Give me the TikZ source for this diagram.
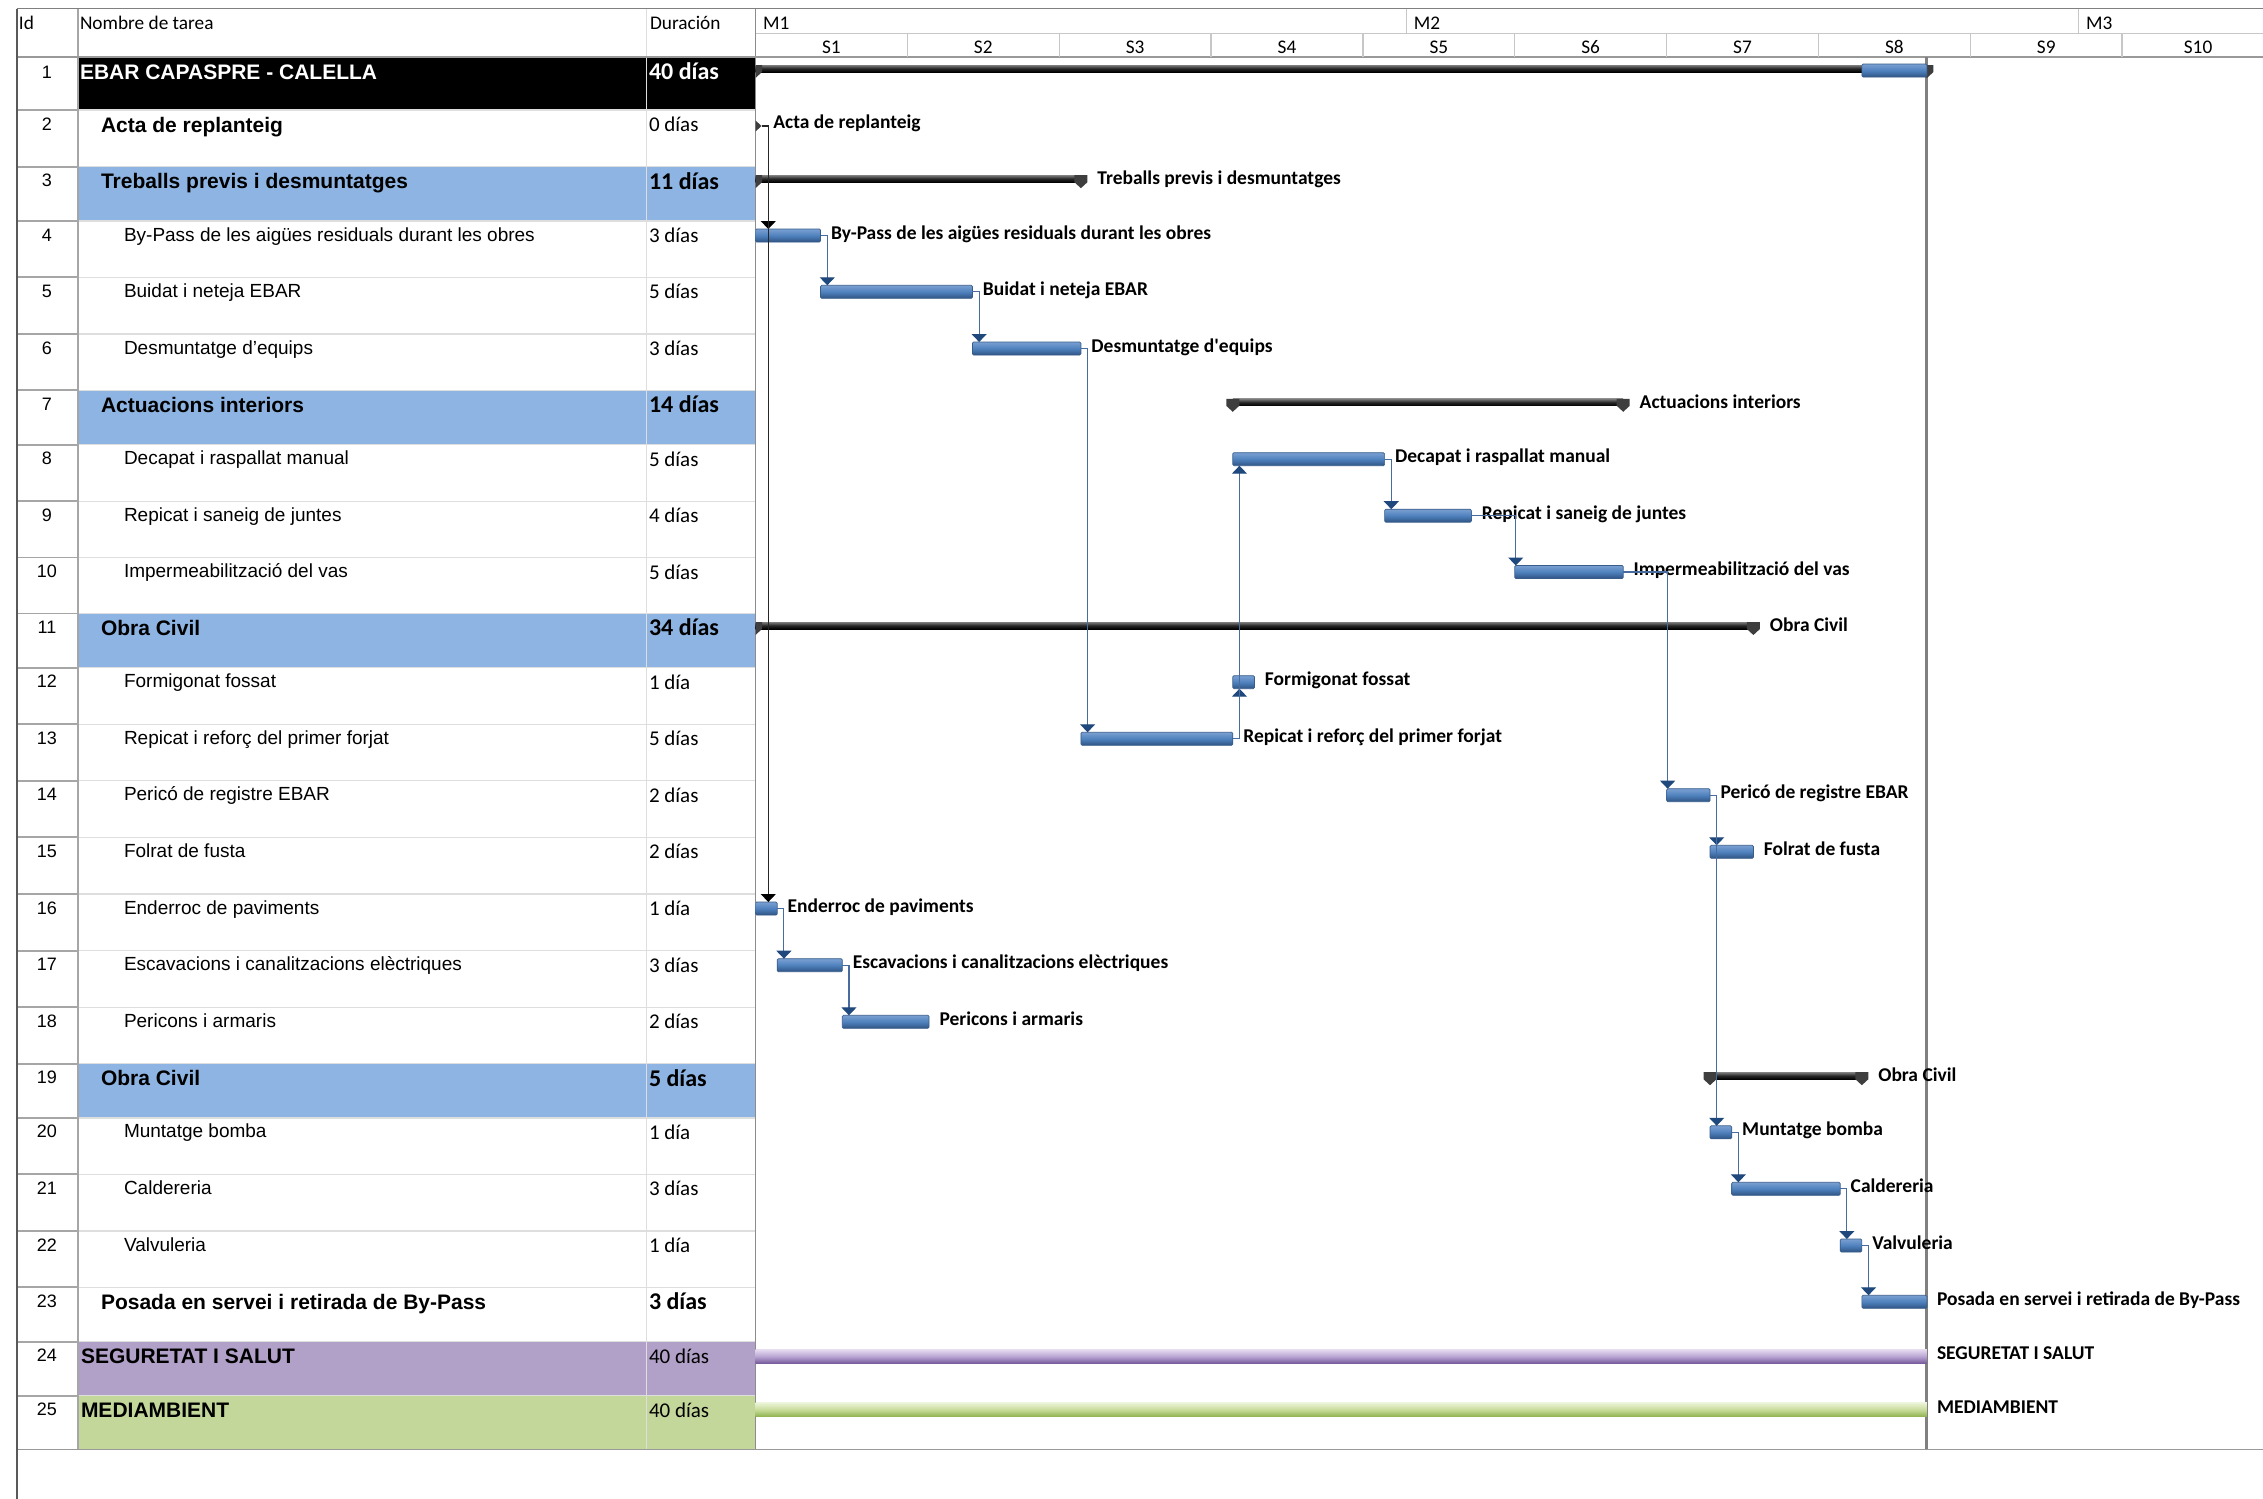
\documentclass[tikz,border=0pt]{standalone}
\usepackage{fontspec}
\setmainfont{Liberation Sans}
\newfontfamily\carl{Carlito}
\usetikzlibrary{arrows.meta,shapes.geometric}
\definecolor{tbtop}{RGB}{122,160,210}
\definecolor{tbmid}{RGB}{79,129,189}
\definecolor{tbbot}{RGB}{46,84,132}
\definecolor{tbline}{RGB}{56,93,138}
\definecolor{sumtop}{RGB}{125,125,125}
\definecolor{capc}{RGB}{62,62,62}
\definecolor{linkc}{RGB}{72,108,160}
\definecolor{arrowc}{RGB}{31,73,125}
\definecolor{rowblue}{RGB}{141,180,226}
\definecolor{rowpurple}{RGB}{177,160,199}
\definecolor{rowgreen}{RGB}{196,215,155}
\definecolor{pbtop}{RGB}{230,220,240}
\definecolor{pbmid}{RGB}{186,166,211}
\definecolor{pbbot}{RGB}{118,90,155}
\definecolor{gbtop}{RGB}{234,243,214}
\definecolor{gbmid}{RGB}{198,219,152}
\definecolor{gbbot}{RGB}{140,176,76}
\newcommand\sumcap[2]{\fill[capc] ({#1-6.5},{#2-3.5}) -- ++(13,0) -- ++(0,7) -- ++(-6.5,6) -- ++(-6.5,-6) -- cycle;}
\tikzset{
  txt/.style={inner sep=0pt, outer sep=0pt, anchor=base west},
  nm/.style={txt, font=\fontsize{19}{22}\selectfont},
  nmb/.style={txt, font=\bfseries\fontsize{21}{24}\selectfont},
  du/.style={txt, font=\carl\fontsize{21}{24}\selectfont},
  dub/.style={txt, font=\carl\bfseries\fontsize{24}{28}\selectfont},
  idn/.style={inner sep=0pt, outer sep=0pt, anchor=base, font=\fontsize{18}{21}\selectfont},
  hd/.style={txt, font=\carl\fontsize{19.3}{22}\selectfont},
  wk/.style={inner sep=0pt, outer sep=0pt, anchor=base, font=\carl\fontsize{19.3}{22}\selectfont},
  lab/.style={txt, font=\carl\bfseries\fontsize{19.5}{22}\selectfont},
  taskbar/.style={rectangle, inner sep=0pt, outer sep=0pt, anchor=west, minimum height=13pt,
    top color=tbtop, bottom color=tbbot, middle color=tbmid, draw=tbline, line width=0.7pt, rounded corners=1.2pt},
  sumbar/.style={rectangle, inner sep=0pt, outer sep=0pt, anchor=west, minimum height=7pt,
    top color=sumtop, bottom color=black, middle color=black!85},
  purbar/.style={rectangle, inner sep=0pt, outer sep=0pt, anchor=west, minimum height=14pt,
    top color=pbtop, bottom color=pbbot, middle color=pbmid},
  grnbar/.style={rectangle, inner sep=0pt, outer sep=0pt, anchor=west, minimum height=14pt,
    top color=gbtop, bottom color=gbbot, middle color=gbmid},
  link/.style={draw=linkc, line width=1.1pt, -{Triangle[width=15pt,length=8pt,color=arrowc]}},
  mlink/.style={draw=black!85, line width=1.1pt, -{Triangle[width=15pt,length=8pt,color=black]}},
  gridA/.style={draw=black!35, line width=1.8pt},
  gridB/.style={draw=black!13, line width=1.4pt},
  gridC/.style={draw=black!22, line width=1.4pt},
}
\begin{document}
\begin{tikzpicture}[x=1pt,y=-1pt]
\useasboundingbox (0,0) rectangle (2263,1499);
\fill[white] (0,0) rectangle (2263,1499);

% ---------- table fills ----------
\fill[black] (77.7,57) rectangle (755.5,110);
\fill[rowblue] (77.7,166.7) rectangle (755.5,221);
\fill[rowblue] (77.7,390.3) rectangle (755.5,444.7);
\fill[rowblue] (77.7,613.5) rectangle (755.5,667.7);
\fill[rowblue] (77.7,1063.7) rectangle (755.5,1117.8);
\fill[rowpurple] (77.7,1341.7) rectangle (755.5,1395.7);
\fill[rowgreen] (77.7,1395.7) rectangle (755.5,1449.3);

% ---------- grid ----------
\foreach \y in {110,166.7,221,277.3,334,390.3,444.7,501.2,557.5,613.5,667.7,724.3,780.7,837.3,894,950.7,1007.3,1063.7,1117.8,1174.3,1231,1287.3,1341.7,1395.7}{
  \draw[gridA] (16.7,\y) -- (77.7,\y);
  \draw[gridB] (77.7,\y) -- (755.5,\y);
}
\draw[gridB] (646.7,8.5) -- (646.7,1449.3);
\draw[gridA] (77.7,8.5) -- (77.7,1449.3);
\draw[draw=black!45, line width=1.6pt] (755.5,8.5) -- (755.5,1449.3);
% header lines
\draw[draw=black!50, line width=1.6pt] (16.7,8.5) -- (2263,8.5);
\draw[draw=black!40, line width=1.6pt] (16.7,57) -- (2263,57);
\draw[gridC] (755.5,33.3) -- (2263,33.3);
\draw[gridC] (1406.3,8.5) -- (1406.3,33.3);
\draw[gridC] (2078.6,8.5) -- (2078.6,33.3);
\foreach \k in {1,...,9}{
  \draw[gridC] ({755.5+151.85*\k},33.3) -- ({755.5+151.85*\k},57);
}
% bottom line and left border
\draw[draw=black!40, line width=1.6pt] (16.7,1449.3) -- (2263,1449.3);
\draw[draw=black!65, line width=2pt] (16.7,8.5) -- (16.7,1499);

% ---------- header texts ----------
\node[hd] (hId) at (19,29.5) {Id};
\node[hd] (hName) at (80,29.5) {Nombre de tarea};
\node[hd] (hDur) at (650,29.5) {Duración};
\node[hd] (hM1) at (763,29.5) {M1};
\node[hd] (hM2) at (1413.8,29.5) {M2};
\node[hd] (hM3) at (2086,29.5) {M3};
\foreach \k in {1,...,10}{
  \node[wk] (wk\k) at ({755.5+151.85*(\k-0.5)},53) {S\k};
}

% ---------- ids ----------
\foreach \i/\t in {1/58,2/110,3/166.7,4/221,5/277.3,6/334,7/390.3,8/444.7,9/501.2,10/557.5,11/613.5,12/667.7,13/724.3,14/780.7,15/837.3,16/894,17/950.7,18/1007.3,19/1063.7,20/1117.8,21/1174.3,22/1231,23/1287.3,24/1341.7,25/1395.7}{
  \node[idn] (id\i) at (47,{\t+20}) {\i};
}

% ---------- names ----------
\node[nmb, text=white] (n1) at (80,79) {EBAR CAPASPRE - CALELLA};
\node[nmb] (n2) at (101,132) {Acta de replanteig};
\node[nmb] (n3) at (101,188.7) {Treballs previs i desmuntatges};
\node[nm] (n4) at (124,241) {By-Pass de les aigües residuals durant les obres};
\node[nm] (n5) at (124,297.3) {Buidat i neteja EBAR};
\node[nm] (n6) at (124,354) {Desmuntatge d'equips};
\node[nmb] (n7) at (101,412.3) {Actuacions interiors};
\node[nm] (n8) at (124,464.7) {Decapat i raspallat manual};
\node[nm] (n9) at (124,521.2) {Repicat i saneig de juntes};
\node[nm] (n10) at (124,577.5) {Impermeabilització del vas};
\node[nmb] (n11) at (101,635.5) {Obra Civil};
\node[nm] (n12) at (124,687.7) {Formigonat fossat};
\node[nm] (n13) at (124,744.3) {Repicat i reforç del primer forjat};
\node[nm] (n14) at (124,800.7) {Pericó de registre EBAR};
\node[nm] (n15) at (124,857.3) {Folrat de fusta};
\node[nm] (n16) at (124,914) {Enderroc de paviments};
\node[nm] (n17) at (124,970.7) {Escavacions i canalitzacions elèctriques};
\node[nm] (n18) at (124,1027.3) {Pericons i armaris};
\node[nmb] (n19) at (101,1085.7) {Obra Civil};
\node[nm] (n20) at (124,1137.8) {Muntatge bomba};
\node[nm] (n21) at (124,1194.3) {Caldereria};
\node[nm] (n22) at (124,1251) {Valvuleria};
\node[nmb] (n23) at (101,1309.3) {Posada en servei i retirada de By-Pass};
\node[nmb] (n24) at (81,1363.7) {SEGURETAT I SALUT};
\node[nmb] (n25) at (81,1417.7) {MEDIAMBIENT};

% ---------- durations ----------
\node[dub, text=white] (d1) at (649,79) {40 días};
\node[du] (d2) at (649,131.6) {0 días};
\node[dub] (d3) at (649,189) {11 días};
\node[du] (d4) at (649,242.6) {3 días};
\node[du] (d5) at (649,298.9) {5 días};
\node[du] (d6) at (649,355.6) {3 días};
\node[dub] (d7) at (649,412.6) {14 días};
\node[du] (d8) at (649,466.3) {5 días};
\node[du] (d9) at (649,522.8) {4 días};
\node[du] (d10) at (649,579.1) {5 días};
\node[dub] (d11) at (649,635.8) {34 días};
\node[du] (d12) at (649,689.3) {1 día};
\node[du] (d13) at (649,745.9) {5 días};
\node[du] (d14) at (649,802.3) {2 días};
\node[du] (d15) at (649,858.9) {2 días};
\node[du] (d16) at (649,915.6) {1 día};
\node[du] (d17) at (649,972.3) {3 días};
\node[du] (d18) at (649,1028.9) {2 días};
\node[dub] (d19) at (649,1086) {5 días};
\node[du] (d20) at (649,1139.4) {1 día};
\node[du] (d21) at (649,1195.9) {3 días};
\node[du] (d22) at (649,1252.6) {1 día};
\node[dub] (d23) at (649,1309.6) {3 días};
\node[du] (d24) at (649,1363.3) {40 días};
\node[du] (d25) at (649,1417.3) {40 días};

% ---------- Gantt ----------
\begin{scope}
\clip (755.5,57) rectangle (2263,1449.3);
% status line
\draw[draw=black!50, line width=2.4pt] (1926.5,57) -- (1926.5,1449.3);

% summary bars
\node[sumbar, minimum width=1171.42pt] (s1) at (755.5,68.5) {};
\sumcap{755.5}{68.5}\sumcap{1926.92}{68.5}
\node[taskbar, minimum width=65.08pt] (r1) at (1861.84,70.5) {};
\node[sumbar, minimum width=325.4pt] (s3) at (755.5,178.7) {};
\sumcap{755.5}{178.7}\sumcap{1080.9}{178.7}
\node[sumbar, minimum width=390.47pt] (s7) at (1232.75,402.3) {};
\sumcap{1232.75}{402.3}\sumcap{1623.22}{402.3}
\node[sumbar, minimum width=997.88pt] (s11) at (755.5,625.5) {};
\sumcap{755.5}{625.5}\sumcap{1753.38}{625.5}
\node[sumbar, minimum width=151.84pt] (s19) at (1710,1075.7) {};
\sumcap{1710}{1075.7}\sumcap{1861.84}{1075.7}

% milestone
\node[diamond, fill=capc, inner sep=0pt, outer sep=0pt, minimum width=12pt, minimum height=11pt] (m2) at (755.5,126) {};

% task bars
\node[taskbar, minimum width=65.08pt] (b4) at (755.5,235.5) {};
\node[taskbar, minimum width=151.85pt] (b5) at (820.58,291.8) {};
\node[taskbar, minimum width=108.47pt] (b6) at (972.43,348.5) {};
\node[taskbar, minimum width=151.85pt] (b8) at (1232.75,459.2) {};
\node[taskbar, minimum width=86.77pt] (b9) at (1384.6,515.7) {};
\node[taskbar, minimum width=108.47pt] (b10) at (1514.76,572) {};
\node[taskbar, minimum width=21.69pt] (b12) at (1232.75,682.2) {};
\node[taskbar, minimum width=151.85pt] (b13) at (1080.9,738.8) {};
\node[taskbar, minimum width=43.39pt] (b14) at (1666.61,795.2) {};
\node[taskbar, minimum width=43.39pt] (b15) at (1710,851.8) {};
\node[taskbar, minimum width=21.69pt] (b16) at (755.5,908.5) {};
\node[taskbar, minimum width=65.08pt] (b17) at (777.19,965.2) {};
\node[taskbar, minimum width=86.77pt] (b18) at (842.27,1021.8) {};
\node[taskbar, minimum width=21.69pt] (b20) at (1710,1132.3) {};
\node[taskbar, minimum width=108.47pt] (b21) at (1731.69,1188.8) {};
\node[taskbar, minimum width=21.69pt] (b22) at (1840.15,1245.5) {};
\node[taskbar, minimum width=65.08pt] (b23) at (1861.84,1301.8) {};
\node[purbar, minimum width=1171.42pt] (b24) at (755.5,1356.3) {};
\node[grnbar, minimum width=1171.42pt] (b25) at (755.5,1409.9) {};

% labels
\node[lab] (l2) at (773.3,128) {Acta de replanteig};
\node[lab] (l3) at (1097.4,184.7) {Treballs previs i desmuntatges};
\node[lab] (l4) at (831.1,239) {By-Pass de les aigües residuals durant les obres};
\node[lab] (l5) at (982.9,295.3) {Buidat i neteja EBAR};
\node[lab] (l6) at (1091.4,352) {Desmuntatge d'equips};
\node[lab] (l7) at (1639.7,408.3) {Actuacions interiors};
\node[lab] (l8) at (1395.1,462.7) {Decapat i raspallat manual};
\node[lab] (l9) at (1481.9,519.2) {Repicat i saneig de juntes};
\node[lab] (l10) at (1633.7,575.5) {Impermeabilització del vas};
\node[lab] (l11) at (1769.9,631.5) {Obra Civil};
\node[lab] (l12) at (1264.9,685.7) {Formigonat fossat};
\node[lab] (l13) at (1243.3,742.3) {Repicat i reforç del primer forjat};
\node[lab] (l14) at (1720.5,798.7) {Pericó de registre EBAR};
\node[lab] (l15) at (1763.9,855.3) {Folrat de fusta};
\node[lab] (l16) at (787.7,912) {Enderroc de paviments};
\node[lab] (l17) at (852.8,968.7) {Escavacions i canalitzacions elèctriques};
\node[lab] (l18) at (939.5,1025.3) {Pericons i armaris};
\node[lab] (l19) at (1878.3,1081.7) {Obra Civil};
\node[lab] (l20) at (1742.2,1135.8) {Muntatge bomba};
\node[lab] (l21) at (1850.7,1192.3) {Caldereria};
\node[lab] (l22) at (1872.3,1249) {Valvuleria};
\node[lab] (l23) at (1937,1305.3) {Posada en servei i retirada de By-Pass};
\node[lab] (l24) at (1937,1359.7) {SEGURETAT I SALUT};
\node[lab] (l25) at (1937,1413.7) {MEDIAMBIENT};

% links
\draw[mlink] (m2.east) -| ([xshift=12.8pt]b4.north west);
\draw[mlink] (m2.east) -| ([xshift=12.8pt]b16.north west);
\draw[link] (b4.east) -| ([xshift=6.7pt]b5.north west);
\draw[link] (b5.east) -| ([xshift=6.7pt]b6.north west);
\draw[link] (b6.east) -| ([xshift=6.7pt]b13.north west);
\draw[link] (b13.east) -| ([xshift=6.7pt]b12.south west);
\draw[link] (b13.east) -| ([xshift=6.7pt]b8.south west);
\draw[link] (b8.east) -| ([xshift=6.7pt]b9.north west);
\draw[link] (b9.east) -| ([xshift=1pt]b10.north west);
\draw[link] (b10.east) -| ([xshift=1pt]b14.north west);
\draw[link] (b14.east) -| ([xshift=6.7pt]b15.north west);
\draw[link] (b14.east) -| ([xshift=6.7pt]b20.north west);
\draw[link] (b20.east) -| ([xshift=6.7pt]b21.north west);
\draw[link] (b21.east) -| ([xshift=6.7pt]b22.north west);
\draw[link] (b22.east) -| ([xshift=6.7pt]b23.north west);
\draw[link] (b16.east) -| ([xshift=6.7pt]b17.north west);
\draw[link] (b17.east) -| ([xshift=6.7pt]b18.north west);
\end{scope}
\end{tikzpicture}
\end{document}
